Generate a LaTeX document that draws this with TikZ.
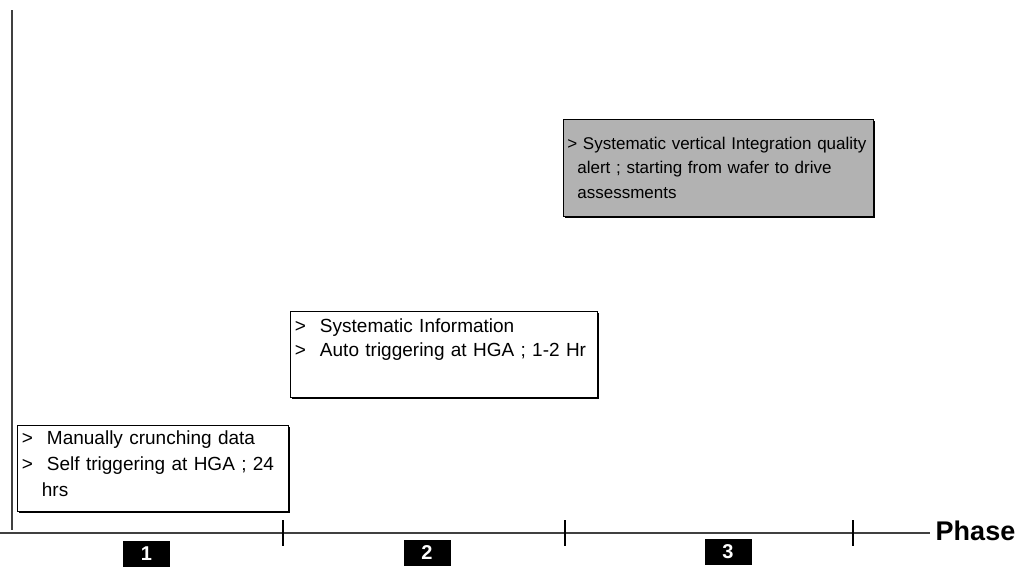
\documentclass[tikz,border=0pt]{standalone}
\usepackage{fontspec}
\setmainfont{Liberation Sans}
\usetikzlibrary{shadows}

\tikzset{
  phasebox/.style={draw, thick, fill=white, anchor=north west, inner xsep=4pt, inner ysep=0pt,
    align=left, font=\fontsize{19}{26}\selectfont,
    drop shadow={shadow xshift=1.5pt, shadow yshift=-2pt, fill=black, opacity=1}},
  phasetag/.style={fill=black, text=white, font=\bfseries\fontsize{20}{20}\selectfont,
    minimum width=47pt, minimum height=26pt, inner sep=0pt}
}

\begin{document}
\begin{tikzpicture}[x=1pt, y=-1pt, thick]
  \useasboundingbox (0,0) rectangle (1021,568);

  % 坐标轴
  \coordinate (top) at (12,10);
  \coordinate (origin) at (12,533);
  \coordinate (left) at (0,533);
  \coordinate (right) at (930,533);
  \draw[black!75, line width=1.4pt] (top) -- (12,530);
  \draw[black!75, line width=1.4pt] (left) -- (right);
  \node[anchor=west, font=\bfseries\fontsize{27}{27}\selectfont] (phase) at (932,531) {Phase};

  % 刻度
  \foreach \x in {283,565,853} {
    \draw[line width=1.5pt] (\x,520) -- (\x,546);
  }

  % 阶段编号
  \node[phasetag] (ph1) at (146.5,554) {1};
  \node[phasetag] (ph2) at (427,553) {2};
  \node[phasetag] (ph3) at (728,552) {3};

  % 说明框
  \node[phasebox, minimum width=271pt, minimum height=86pt, text width=262pt] (manual) at (17,425)
    {>\hspace{14pt}Manually crunching data\\
     >\hspace{14pt}Self triggering at HGA ; 24\\
     \hspace*{20pt}hrs\\[-16pt]\mbox{}};
  \node[phasebox, minimum width=307pt, minimum height=86pt, text width=298pt,
        font=\fontsize{19}{24}\selectfont] (auto) at (290,311)
    {>\hspace{14pt}Systematic Information\\
     >\hspace{14pt}Auto triggering at HGA ; 1-2 Hr\\[10pt]\mbox{}};
  \node[phasebox, fill=black!30, minimum width=310pt, minimum height=97pt, text width=302pt,
        inner xsep=3pt, inner ysep=2pt, font=\fontsize{17}{24.5}\selectfont] (systematic) at (563,119)
    {> Systematic vertical Integration quality\\
     \hspace*{10pt}alert ; starting from wafer to drive\\
     \hspace*{10pt}assessments};
\end{tikzpicture}
\end{document}
